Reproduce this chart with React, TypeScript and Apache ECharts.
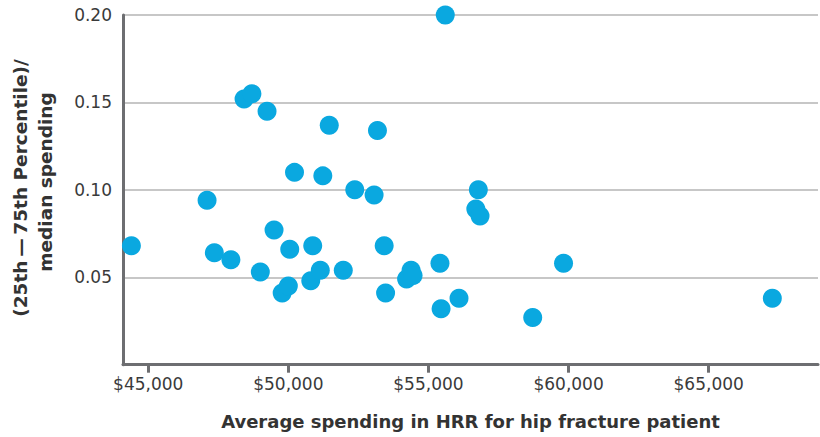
import React, { useEffect, useRef } from "react";
import * as echarts from "echarts";

// Average spending in HRR for hip fracture patient ($)
const avgSpending: number[] = [
  44400, 47100, 47360, 47950, 48420, 48700, 49240, 49000, 49490, 49780,
  50000, 50050, 50220, 50800, 50870, 51140, 51230, 51460, 51960, 52370,
  53060, 53180, 53420, 53470, 54220, 54380, 54450, 55410, 55450, 55600,
  56090, 56690, 56780, 56840, 58720, 59820, 67270,
];
// (25th - 75th percentile) / median spending
const spreadRatio: number[] = [
  0.068, 0.094, 0.064, 0.060, 0.152, 0.155, 0.145, 0.053, 0.077, 0.041,
  0.045, 0.066, 0.110, 0.048, 0.068, 0.054, 0.108, 0.137, 0.054, 0.100,
  0.097, 0.134, 0.068, 0.041, 0.049, 0.054, 0.051, 0.058, 0.032, 0.200,
  0.038, 0.089, 0.100, 0.085, 0.027, 0.058, 0.038,
];
const xTicks: number[] = [45000, 50000, 55000, 60000, 65000];
const xTitle = "Average spending in HRR for hip fracture patient";
const yTitleLines: string[] = ["(25th\u2009\u2014\u200975th Percentile)/", "median spending"];

const FONT = "DejaVu Sans";

export default function App() {
  const ref = useRef<HTMLDivElement>(null);
  useEffect(() => {
    if (!ref.current) return;
    const chart = echarts.init(ref.current, undefined, { renderer: "svg" });
    const points = avgSpending.map((x, i) => [x, spreadRatio[i]]);
    chart.setOption({
      animation: false,
      grid: { left: 123, right: 2, top: 15, bottom: 72.3 },
      xAxis: {
        type: "value",
        min: 44100,
        max: 68900,
        name: xTitle,
        nameLocation: "middle",
        nameGap: 48,
        nameTextStyle: { fontFamily: FONT, fontSize: 18, fontWeight: "bold", color: "#333333" },
        axisLine: { show: true, lineStyle: { color: "#6d6e71", width: 3 } },
        axisTick: {
          show: true,
          customValues: xTicks,
          length: 8,
          lineStyle: { color: "#6d6e71", width: 3 },
        },
        axisLabel: {
          customValues: xTicks,
          formatter: (v: number) => "$" + v.toLocaleString("en-US"),
          fontFamily: FONT,
          fontSize: 17,
          color: "#3a3a3a",
          margin: 11,
        },
        splitLine: { show: false },
      },
      yAxis: {
        type: "value",
        min: 0,
        max: 0.2,
        interval: 0.05,
        axisLine: { show: true, lineStyle: { color: "#6d6e71", width: 3 } },
        axisTick: { show: false },
        axisLabel: {
          formatter: (v: number) => (v === 0 ? "" : v.toFixed(2)),
          fontFamily: FONT,
          fontSize: 17,
          color: "#3a3a3a",
          margin: 11,
        },
        splitLine: { show: true, lineStyle: { color: "#b5b5b5", width: 1.5 } },
      },
      graphic: [
        {
          type: "text",
          x: 20,
          y: 188,
          rotation: Math.PI / 2,
          style: {
            text: yTitleLines[0],
            fontFamily: FONT,
            fontSize: 18.5,
            fontWeight: "bold",
            fill: "#333333",
            textAlign: "center",
            textVerticalAlign: "middle",
          },
        },
        {
          type: "text",
          x: 45,
          y: 182,
          rotation: Math.PI / 2,
          style: {
            text: yTitleLines[1],
            fontFamily: FONT,
            fontSize: 18.5,
            fontWeight: "bold",
            fill: "#333333",
            textAlign: "center",
            textVerticalAlign: "middle",
          },
        },
      ],
      series: [
        {
          type: "scatter",
          data: points,
          symbolSize: 19,
          itemStyle: { color: "#0aa8e0", opacity: 1 },
        },
      ],
    });
    return () => chart.dispose();
  }, []);
  return <div ref={ref} style={{ width: 820, height: 437, position: "absolute", left: 0, top: 0 }} />;
}
